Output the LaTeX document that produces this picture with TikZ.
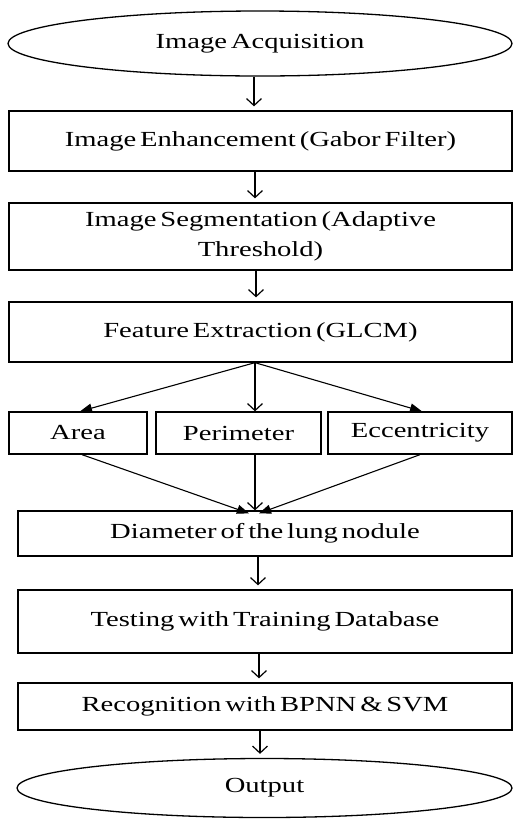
\documentclass[tikz,border=0pt]{standalone}
\usepackage{fontspec}
\setmainfont[FakeStretch=1.33,WordSpace=0.55]{Liberation Serif}
\usetikzlibrary{arrows.meta,shapes.geometric}
\begin{document}
\begin{tikzpicture}[x=1pt,y=-1pt,
  every node/.style={font=\fontsize{21.5}{30}\selectfont, align=center, inner sep=0pt, line width=1.3pt},
  boxs/.style={draw, rectangle},
  ells/.style={draw, ellipse},
  varrow/.style={line width=1.3pt, -{Straight Barb[length=7pt,width=15pt,line width=1.2pt]}, shorten >=4pt},
  farrow/.style={line width=1.1pt, -{Triangle[length=12pt,width=9pt]}},
]
\useasboundingbox (0,0) rectangle (513,820);
% nodes
\node[ells, minimum width=504pt, minimum height=65pt] (acq) at (260,43.5) {Image Acquisition};
\node[boxs, minimum width=503pt, minimum height=60pt] (enh) at (260.5,141) {Image Enhancement (Gabor Filter)};
\node[boxs, minimum width=503pt, minimum height=67pt] (seg) at (260.5,236.5) {Image Segmentation (Adaptive\\Threshold)};
\node[boxs, minimum width=503pt, minimum height=60pt] (feat) at (260.5,332) {Feature Extraction (GLCM)};
\node[boxs, minimum width=138pt, minimum height=42pt] (area) at (78,433) {Area};
\node[boxs, minimum width=165pt, minimum height=42pt] (per) at (238.5,433) {Perimeter};
\node[boxs, minimum width=184pt, minimum height=42pt] (ecc) at (420,433) {Eccentricity};
\node[boxs, minimum width=494pt, minimum height=45pt] (diam) at (265,533.5) {Diameter of the lung nodule};
\node[boxs, minimum width=494pt, minimum height=63pt] (test) at (265,621.5) {Testing with Training Database};
\node[boxs, minimum width=494pt, minimum height=47pt] (rec) at (265,706.5) {Recognition with BPNN \& SVM};
\node[ells, minimum width=495pt, minimum height=59pt] (out) at (264.5,788) {Output};
% connectors
\draw[varrow] (acq.south -| 254,0) -- (enh.north -| 254,0);
\draw[varrow] (enh.south -| 255,0) -- (seg.north -| 255,0);
\draw[varrow] (seg.south -| 256,0) -- (feat.north -| 256,0);
\coordinate (fb) at (feat.south -| 255,0);
\draw[farrow] (fb) -- (area.north -| 80,0);
\draw[varrow, shorten >=0pt] (fb) -- (per.north -| 255,0);
\draw[farrow] (fb) -- (ecc.north -| 422,0);
\coordinate (dt) at (diam.north -| 255,0);
\draw[farrow] (area.south -| 82,0) -- ([xshift=-6pt,yshift=-3pt]dt);
\draw[varrow, shorten >=0pt] (per.south -| 255,0) -- (dt);
\draw[farrow] (ecc.south -| 420,0) -- ([xshift=4pt,yshift=-3pt]dt);
\draw[varrow] (diam.south -| 258,0) -- (test.north -| 258,0);
\draw[varrow] (test.south -| 259,0) -- (rec.north -| 259,0);
\draw[varrow] (rec.south -| 260,0) -- (out.north -| 260,0);
\end{tikzpicture}
\end{document}
